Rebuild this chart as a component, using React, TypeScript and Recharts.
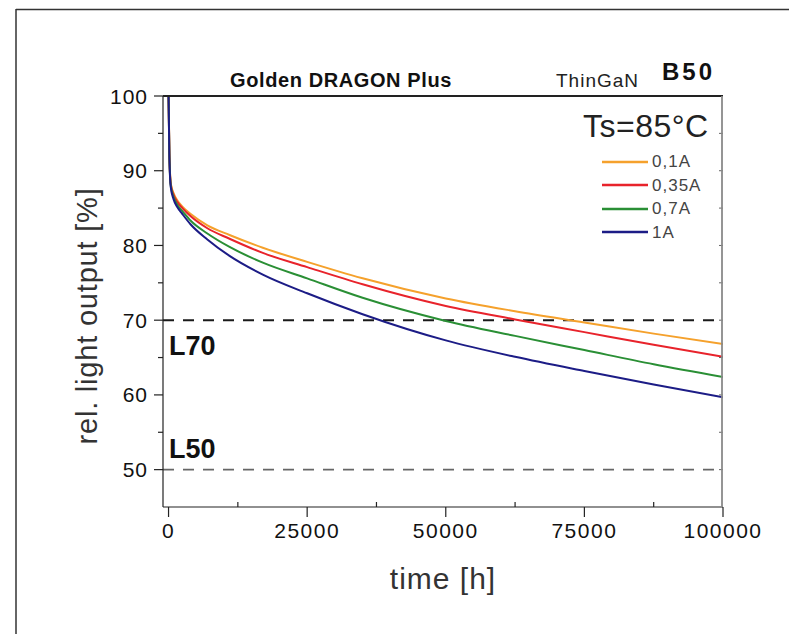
import React from 'react';
import { LineChart, Line, XAxis, YAxis, ReferenceLine, Legend } from 'recharts';

// lifetime hours and relative light output [%] per drive current
const timeHours = [0, 150, 400, 900, 1600, 2500, 4000, 7000, 11000, 17000, 25000, 35000, 50000, 62500, 75000, 87500, 100000];
const out01A = [100, 92.5, 88.3, 87.0, 86.0, 85.2, 84.2, 82.7, 81.4, 79.7, 77.8, 75.6, 72.9, 71.2, 69.7, 68.2, 66.8];
const out035A = [100, 92.3, 88.2, 86.8, 85.8, 85.0, 83.9, 82.3, 80.9, 79.0, 77.1, 74.8, 71.9, 70.1, 68.4, 66.7, 65.1];
const out07A = [100, 92.0, 88.0, 86.5, 85.4, 84.6, 83.3, 81.6, 79.8, 77.7, 75.6, 73.0, 69.9, 67.9, 66.0, 64.1, 62.4];
const out1A = [100, 91.8, 87.8, 86.2, 85.1, 84.2, 82.8, 80.8, 78.6, 76.1, 73.6, 70.8, 67.3, 65.1, 63.2, 61.4, 59.7];

const seriesNames = ['0,1A', '0,35A', '0,7A', '1A'];
const seriesColors = ['#f5a12c', '#e8232b', '#2a8f35', '#1c1c86'];

const xTicks = [0, 12500, 25000, 37500, 50000, 62500, 75000, 87500, 100000];
const yTicks = [50, 55, 60, 65, 70, 75, 80, 85, 90, 95, 100];

const FONT = '"Liberation Sans", Arial, Helvetica, sans-serif';

const data = timeHours.map((t, i) => ({
  t,
  a: out01A[i],
  b: out035A[i],
  c: out07A[i],
  d: out1A[i],
}));

const Y_TICK = 9;
const Y_GAP = 6;
const X_TICK = 10;
const X_GAP = 6;

// plot box edges (left/bottom come from the axes)
const PLOT = { left: 163, top: 96, right: 722, bottom: 507 };

function LeftTick(props: any) {
  const { x, y, payload } = props;
  const axisX = x + Y_GAP + Y_TICK;
  const major = payload.value % 10 === 0;
  return (
    <g>
      <line x1={axisX - (major ? Y_TICK : 5)} x2={axisX} y1={y} y2={y} stroke="#222" strokeWidth={1.2} />
      {major && (
        <text x={x} y={y} dy="0.36em" textAnchor="end" fontSize={21} letterSpacing={1} fill="#111" fontFamily={FONT}>
          {payload.value}
        </text>
      )}
    </g>
  );
}

function BottomTick(props: any) {
  const { x, y, payload } = props;
  const axisY = y - X_GAP - X_TICK;
  const major = payload.value % 25000 === 0;
  return (
    <g>
      <line
        x1={x}
        x2={x}
        y1={major ? axisY : axisY - 5}
        y2={major ? axisY + X_TICK : axisY}
        stroke="#222"
        strokeWidth={1.2}
      />
      {major && (
        <text x={x} y={y} dy="0.72em" textAnchor="middle" fontSize={21} letterSpacing={1.5} fill="#111" fontFamily={FONT}>
          {payload.value}
        </text>
      )}
    </g>
  );
}

function LegendBox(props: any) {
  const { payload } = props;
  return (
    <div>
      {(payload || []).map((p: any) => (
        <div key={p.value} style={{ display: 'flex', alignItems: 'center', height: 23.5 }}>
          <svg width={46} height={4}>
            <line x1={0} x2={46} y1={2} y2={2} stroke={p.color} strokeWidth={2.5} />
          </svg>
          <span style={{ marginLeft: 4, fontSize: 17, color: '#444', letterSpacing: 1, fontFamily: FONT, lineHeight: 1 }}>
            {p.value}
          </span>
        </div>
      ))}
    </div>
  );
}

const refLabel = (text: string, dy: number) => (props: any) => {
  const { viewBox } = props;
  return (
    <text x={viewBox.x + 6} y={viewBox.y + dy} fontSize={27} fontWeight="bold" fill="#111" fontFamily={FONT}>
      {text}
    </text>
  );
};

export default function App() {
  return (
    <div style={{ position: 'absolute', left: 0, top: 0, width: 789, height: 634, background: '#fff', fontFamily: FONT }}>
      <LineChart width={789} height={634} data={data} margin={{ top: 96, right: 66, left: 103, bottom: 77 }}>
        <XAxis
          dataKey="t"
          type="number"
          domain={[-1000, 100000]}
          allowDataOverflow
          ticks={xTicks}
          interval={0}
          height={50}
          tickSize={X_TICK}
          tickMargin={X_GAP}
          tickLine={false}
          tick={BottomTick}
          axisLine={{ stroke: '#222', strokeWidth: 1.2 }}
        />
        <YAxis
          type="number"
          domain={[45, 100]}
          allowDataOverflow
          ticks={yTicks}
          interval={0}
          width={60}
          tickSize={Y_TICK}
          tickMargin={Y_GAP}
          tickLine={false}
          tick={LeftTick}
          axisLine={{ stroke: '#222', strokeWidth: 1.2 }}
        />
        <YAxis
          yAxisId="right"
          orientation="right"
          mirror
          type="number"
          domain={[45, 100]}
          allowDataOverflow
          ticks={yTicks}
          interval={0}
          width={1}
          tickSize={4}
          tickFormatter={() => ''}
          tickLine={{ stroke: '#666' }}
          axisLine={false}
        />
        <ReferenceLine y={70} stroke="#1a1a1a" strokeWidth={2} strokeDasharray="11 9" label={refLabel('L70', 35)} />
        <ReferenceLine y={50} stroke="#666" strokeWidth={1.6} strokeDasharray="11 9" label={refLabel('L50', -12)} />
        <Line type="monotone" dataKey="a" name={seriesNames[0]} stroke={seriesColors[0]} strokeWidth={2} dot={false} isAnimationActive={false} />
        <Line type="monotone" dataKey="b" name={seriesNames[1]} stroke={seriesColors[1]} strokeWidth={2} dot={false} isAnimationActive={false} />
        <Line type="monotone" dataKey="c" name={seriesNames[2]} stroke={seriesColors[2]} strokeWidth={2} dot={false} isAnimationActive={false} />
        <Line type="monotone" dataKey="d" name={seriesNames[3]} stroke={seriesColors[3]} strokeWidth={2} dot={false} isAnimationActive={false} />
        <Legend
          layout="vertical"
          align="center"
          verticalAlign="middle"
          content={LegendBox}
          wrapperStyle={{ left: 602, top: 150, width: 130, height: 'auto' }}
        />
      </LineChart>

      {/* titles, axis names, plot box edges and the outer frame */}
      <svg width={789} height={634} style={{ position: 'absolute', left: 0, top: 0, pointerEvents: 'none' }}>
        <line x1={16} x2={789} y1={9.5} y2={9.5} stroke="#333" strokeWidth={1.5} />
        <line x1={16} x2={16} y1={9} y2={634} stroke="#333" strokeWidth={1.5} />
        <line x1={PLOT.left} x2={PLOT.right + 1} y1={PLOT.top} y2={PLOT.top} stroke="#222" strokeWidth={1.8} />
        <line x1={PLOT.right} x2={PLOT.right} y1={PLOT.top} y2={PLOT.bottom} stroke="#8a8a8a" strokeWidth={1.8} />
        <text x={230} y={87} fontSize={20} fontWeight="bold" letterSpacing={0.6} fill="#111" fontFamily={FONT}>Golden DRAGON Plus</text>
        <text x={556} y={87} fontSize={19} letterSpacing={1} fill="#222" fontFamily={FONT}>ThinGaN</text>
        <text x={662} y={80} fontSize={24} fontWeight="bold" letterSpacing={3} fill="#111" fontFamily={FONT}>B50</text>
        <text x={583} y={137} fontSize={32} letterSpacing={0.5} fill="#222" fontFamily={FONT}>Ts=85°C</text>
        <text x={443} y={589} fontSize={30} letterSpacing={1} textAnchor="middle" fill="#333" fontFamily={FONT}>time [h]</text>
        <text x={97} y={316} fontSize={29} letterSpacing={0.8} textAnchor="middle" fill="#333" fontFamily={FONT} transform="rotate(-90 97 316)">
          rel. light output [%]
        </text>
      </svg>
    </div>
  );
}
